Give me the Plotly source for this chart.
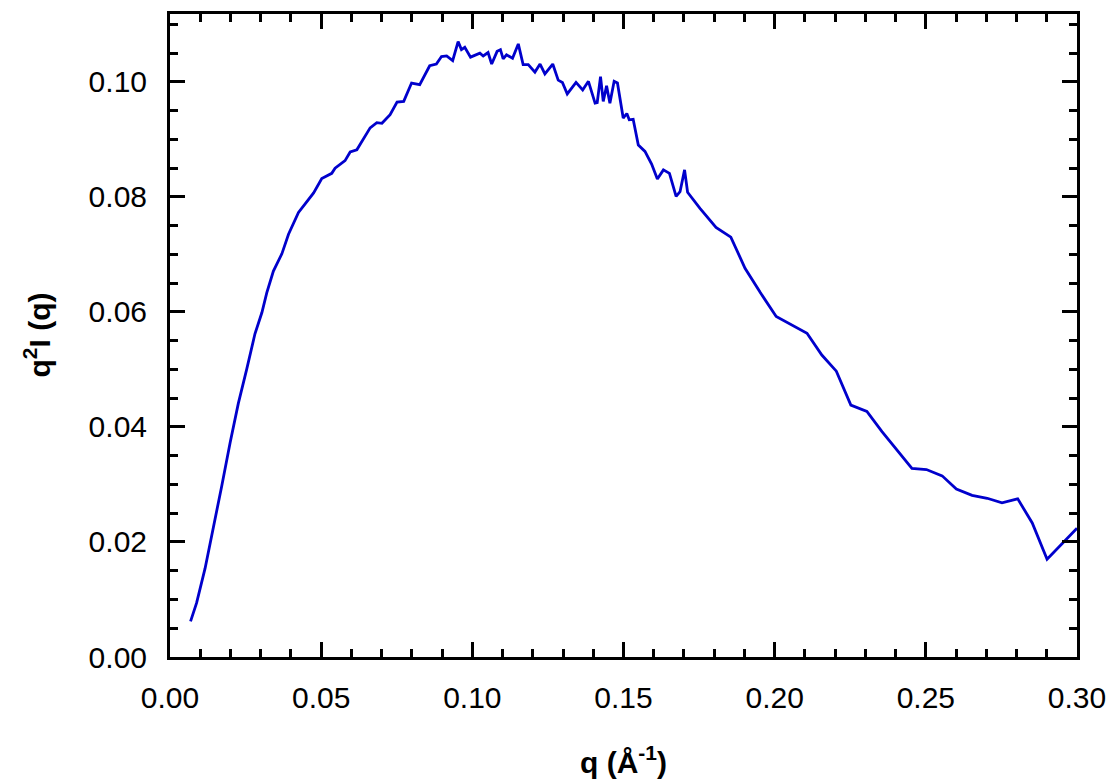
import plotly.graph_objects as go

q = [0.0068, 0.0088, 0.0116, 0.0143, 0.0171, 0.0199, 0.0226, 0.0254, 0.0281, 0.0304,
     0.0320, 0.0342, 0.0370, 0.0392, 0.0425, 0.0447, 0.0475, 0.0502, 0.0535, 0.0546,
     0.0579, 0.0596, 0.0618, 0.0662, 0.0684, 0.0701, 0.0728, 0.0751, 0.0773, 0.0799,
     0.0826, 0.0859, 0.0881, 0.0898, 0.0915, 0.0935, 0.0953, 0.0964, 0.0975, 0.0994,
     0.1012, 0.1025, 0.1036, 0.1052, 0.1064, 0.1082, 0.1093, 0.1102, 0.1113, 0.1133,
     0.1152, 0.1168, 0.1185, 0.1207, 0.1224, 0.1240, 0.1266, 0.1284, 0.1298, 0.1314,
     0.1343, 0.1365, 0.1384, 0.1406, 0.1413, 0.1424, 0.1433, 0.1444, 0.1455, 0.1469,
     0.1480, 0.1499, 0.1511, 0.1519, 0.1532, 0.1549, 0.1571, 0.1593, 0.1612, 0.1632,
     0.1652, 0.1674, 0.1687, 0.1702, 0.1712, 0.1753, 0.1806, 0.1855, 0.1902, 0.1952,
     0.2005, 0.2057, 0.2107, 0.2156, 0.2204, 0.2252, 0.2305, 0.2355, 0.2406, 0.2454,
     0.2502, 0.2554, 0.2601, 0.2653, 0.2703, 0.2752, 0.2804, 0.2852, 0.2901, 0.2951,
     0.3000]

q2I = [0.0062, 0.0094, 0.0154, 0.0222, 0.0297, 0.0373, 0.0441, 0.0501, 0.0562, 0.0599,
       0.0633, 0.0671, 0.0701, 0.0735, 0.0773, 0.0788, 0.0807, 0.0832, 0.0841, 0.0850,
       0.0863, 0.0878, 0.0882, 0.0920, 0.0929, 0.0928, 0.0943, 0.0965, 0.0966, 0.0998,
       0.0995, 0.1028, 0.1031, 0.1044, 0.1045, 0.1037, 0.1070, 0.1056, 0.1060, 0.1043,
       0.1047, 0.1050, 0.1045, 0.1051, 0.1031, 0.1053, 0.1056, 0.1040, 0.1047, 0.1041,
       0.1066, 0.1030, 0.1030, 0.1017, 0.1031, 0.1014, 0.1031, 0.1003, 0.0999, 0.0979,
       0.0999, 0.0986, 0.1001, 0.0963, 0.0964, 0.1009, 0.0966, 0.0993, 0.0963, 0.1001,
       0.0998, 0.0937, 0.0945, 0.0934, 0.0935, 0.0890, 0.0879, 0.0857, 0.0831, 0.0847,
       0.0841, 0.0801, 0.0809, 0.0847, 0.0808, 0.0780, 0.0747, 0.0730, 0.0676, 0.0634,
       0.0592, 0.0577, 0.0563, 0.0525, 0.0497, 0.0438, 0.0427, 0.0392, 0.0360, 0.0328,
       0.0326, 0.0315, 0.0292, 0.0281, 0.0276, 0.0268, 0.0275, 0.0233, 0.0170, 0.0198,
       0.0224]

x_ticks = [0.00, 0.05, 0.10, 0.15, 0.20, 0.25, 0.30]
x_ticklabels = ["0.00", "0.05", "0.10", "0.15", "0.20", "0.25", "0.30"]
y_ticks = [0.00, 0.02, 0.04, 0.06, 0.08, 0.10]
y_ticklabels = ["0.00", "0.02", "0.04", "0.06", "0.08", "0.10"]

FONT = "Liberation Sans, Arial, sans-serif"

fig = go.Figure()
fig.add_trace(go.Scatter(x=q, y=q2I, mode="lines",
                         line=dict(color="#0000CC", width=2.8),
                         showlegend=False))

axis_common = dict(
    showgrid=False, zeroline=False,
    showline=True, linecolor="black", linewidth=3,
    mirror="ticks", automargin=False, ticklabeloverflow="allow",
    ticks="inside", ticklen=15, tickwidth=3, tickcolor="black",
    tickfont=dict(family=FONT, size=30, color="black"),
)

fig.update_layout(
    width=1112, height=783,
    margin=dict(l=170, r=35, t=14, b=126),
    paper_bgcolor="white", plot_bgcolor="white",
    xaxis=dict(range=[0, 0.30], tickvals=x_ticks, ticktext=x_ticklabels,
               minor=dict(dtick=0.01, tick0=0, ticks="inside", ticklen=8,
                          tickwidth=3, tickcolor="black"),
               ticklabelstandoff=12,
               **axis_common),
    yaxis=dict(range=[0, 0.1118], tickvals=y_ticks, ticktext=y_ticklabels,
               minor=dict(dtick=0.005, tick0=0, ticks="inside", ticklen=8,
                          tickwidth=3, tickcolor="black"),
               ticklabelstandoff=14,
               **axis_common),
    annotations=[
        dict(text="<b>q (Å<sup>-1</sup>)</b>", xref="paper", yref="paper",
             x=0.5, y=(657 - 760) / 643, xanchor="center", yanchor="middle",
             showarrow=False, font=dict(family=FONT, size=30, color="black")),
        dict(text="<b>q<sup>2</sup>I (q)</b>", xref="paper", yref="paper",
             x=(37 - 170) / 907, y=0.5, xanchor="center", yanchor="middle",
             textangle=-90, showarrow=False,
             font=dict(family=FONT, size=30, color="black")),
    ],
)

fig.write_html("out.html",
               config={"displayModeBar": False},
               post_script="document.body.style.margin='0';document.body.style.overflow='hidden';")
